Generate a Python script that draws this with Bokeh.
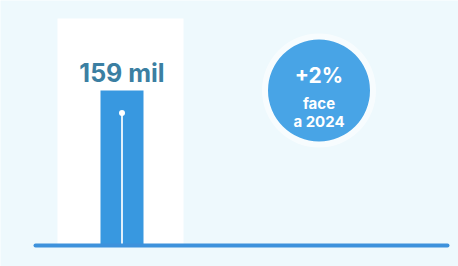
from bokeh.plotting import figure
from bokeh.models import Range1d
from bokeh.core.properties import value
from bokeh.embed import file_html
from bokeh.resources import INLINE

# Data
categories = ["2025"]
values = [159]          # thousand ("mil")
value_labels = ["159 mil"]
change_labels = ["+2%", "face", "a 2024"]

BG = "#eef9fd"
BAR = "#3898e0"
CIRCLE = "#48a4e6"
LABEL = "#3b7fa2"
FONT = value("Inter")

W, H = 458, 266
BASE = 245              # baseline pixel row
px = 159 / 155.0        # data units per pixel
p = figure(width=W, height=H, output_backend="svg", toolbar_location=None,
           x_range=Range1d(0, W), y_range=Range1d(-(H - BASE) * px, BASE * px),
           min_border=0)
p.axis.visible = False
p.grid.visible = False
p.outline_line_color = None
p.background_fill_color = BG
p.border_fill_color = BG

bar_x = 121.5
# white panel behind the bar
p.quad(left=[57], right=[183], bottom=[0], top=[(BASE - 18) * px], fill_color="white",
       line_color=None)
# bar
p.vbar(x=[bar_x], width=43, top=values, bottom=0, fill_color=BAR, line_color=None)
# thin white line inside bar
p.segment(x0=[bar_x], y0=[0], x1=[bar_x], y1=[values[0] * 0.855],
          line_color="white", line_width=2, line_alpha=0.85)
p.scatter(x=[bar_x], y=[values[0] * 0.855], size=6, fill_color="white",
          line_color=None)
# baseline
p.segment(x0=[35], y0=[0], x1=[447], y1=[0], line_color="#3d92dc", line_width=4,
          line_cap="round")
# value label
p.text(x=[bar_x], y=values, text=value_labels, text_align="center",
       text_baseline="middle", y_offset=-18, text_font=FONT,
       text_font_style="bold", text_font_size="25px", text_color=LABEL)

# change bubble
cx, cy = 318.5, (BASE - 90) * px
p.circle(x=[cx], y=[cy], radius=57, radius_units="screen", fill_color="white",
         fill_alpha=0.55, line_color=None)
p.circle(x=[cx], y=[cy], radius=51, radius_units="screen", fill_color=CIRCLE,
         line_color=None)
p.text(x=[cx], y=[cy], text=[change_labels[0]], text_align="center",
       text_baseline="middle", y_offset=-15, text_font=FONT,
       text_font_style="bold", text_font_size="21px", text_color="white")
p.text(x=[cx], y=[cy], text=[change_labels[1]], text_align="center",
       text_baseline="middle", y_offset=13, text_font=FONT,
       text_font_style="bold", text_font_size="15px", text_color="white")
p.text(x=[cx], y=[cy], text=[change_labels[2]], text_align="center",
       text_baseline="middle", y_offset=31, text_font=FONT,
       text_font_style="bold", text_font_size="15px", text_color="white")

open("out.html", "w").write(file_html(p, INLINE))
